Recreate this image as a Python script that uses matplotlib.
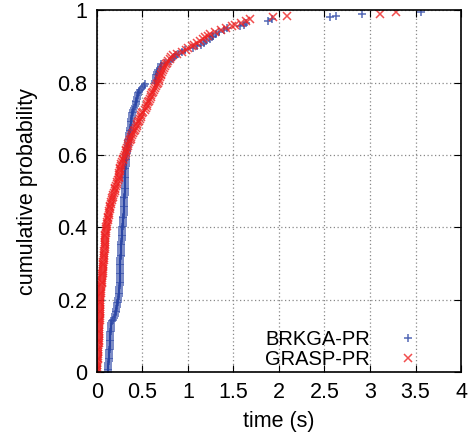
import numpy as np
import matplotlib
matplotlib.use('Agg')
import matplotlib.pyplot as plt

# sorted run times (s), 200 runs each
brkga_times = [
    0.12, 0.12, 0.12, 0.125, 0.125, 0.125, 0.13, 0.13, 0.13, 0.13, 0.135, 0.135, 0.135, 0.14,
    0.14, 0.14, 0.145, 0.145, 0.145, 0.15, 0.15, 0.15, 0.15, 0.155, 0.155, 0.155, 0.16, 0.16,
    0.17, 0.18, 0.19, 0.20,
    0.205, 0.21, 0.21, 0.215, 0.22, 0.22, 0.225, 0.23, 0.235,
    0.235, 0.24, 0.24, 0.24, 0.245, 0.245, 0.245, 0.25, 0.25, 0.25,
    0.25, 0.25, 0.25, 0.255, 0.255, 0.255, 0.255, 0.255, 0.26, 0.26, 0.26, 0.26,
    0.26, 0.265, 0.265, 0.265, 0.265, 0.27, 0.27, 0.27, 0.27, 0.27, 0.275, 0.275, 0.275, 0.275,
    0.28, 0.28, 0.28, 0.28,
    0.285, 0.285, 0.285, 0.29, 0.29, 0.29, 0.295, 0.295, 0.295, 0.30,
    0.30, 0.30, 0.30, 0.30, 0.30, 0.30, 0.30, 0.305, 0.305, 0.305, 0.305, 0.305, 0.305, 0.305,
    0.305, 0.31, 0.31, 0.31, 0.31, 0.31, 0.31, 0.31,
    0.31, 0.315, 0.315, 0.315, 0.32, 0.32, 0.32, 0.325,
    0.33, 0.33, 0.335, 0.335, 0.34, 0.34, 0.345, 0.345,
    0.35, 0.35, 0.355, 0.355, 0.36, 0.36,
    0.365, 0.37, 0.37, 0.375, 0.38, 0.38, 0.385, 0.39, 0.39, 0.395, 0.40,
    0.41, 0.42, 0.425, 0.43, 0.435, 0.44, 0.445, 0.45, 0.455, 0.46, 0.47,
    0.50, 0.52, 0.53,
    0.64, 0.64, 0.645, 0.65, 0.655, 0.66, 0.665, 0.67,
    0.69, 0.70, 0.71, 0.75, 0.80,
    0.83, 0.85, 0.87, 0.89, 0.94, 0.97, 1.06,
    1.10, 1.14, 1.18, 1.20, 1.24, 1.26, 1.28, 1.31, 1.34, 1.40,
    1.43, 1.57, 1.62, 1.64, 1.88, 1.92, 2.56, 2.63, 2.91, 3.56,
]

grasp_times = [
    0.0, 0.0, 0.0, 0.005, 0.005, 0.005, 0.005, 0.01, 0.01, 0.01, 0.01, 0.01, 0.015, 0.015,
    0.015, 0.015, 0.02, 0.02,
    0.02, 0.02, 0.02, 0.02, 0.02, 0.025, 0.025, 0.025, 0.025, 0.025, 0.025, 0.03, 0.03, 0.03,
    0.03, 0.03, 0.03, 0.03, 0.035, 0.035, 0.035, 0.035, 0.035,
    0.04, 0.04, 0.04, 0.045, 0.045, 0.05, 0.05, 0.05, 0.055, 0.055,
    0.06, 0.06, 0.06, 0.06, 0.065, 0.065, 0.065, 0.07, 0.07, 0.07,
    0.07, 0.075, 0.075, 0.075, 0.08, 0.08, 0.08, 0.085, 0.085, 0.085, 0.09, 0.09, 0.09, 0.095,
    0.095, 0.095, 0.10, 0.10, 0.105, 0.105,
    0.11, 0.11, 0.115, 0.12, 0.12, 0.125, 0.13, 0.13, 0.135, 0.14,
    0.145, 0.15, 0.155, 0.16, 0.165, 0.17, 0.175, 0.18, 0.185, 0.195,
    0.20, 0.205, 0.21, 0.22, 0.225, 0.235,
    0.24, 0.24, 0.245, 0.245, 0.25, 0.25,
    0.26, 0.265, 0.27, 0.28, 0.285, 0.29, 0.30, 0.31,
    0.315, 0.32, 0.325, 0.33, 0.34, 0.345, 0.35, 0.36,
    0.37, 0.38, 0.39, 0.40, 0.41, 0.42,
    0.43, 0.44, 0.445, 0.455, 0.46, 0.47, 0.48, 0.49, 0.50, 0.51, 0.53,
    0.54, 0.55, 0.555, 0.565, 0.57, 0.58, 0.59, 0.60, 0.61, 0.62, 0.63, 0.64, 0.655,
    0.66, 0.67, 0.68, 0.685, 0.69, 0.70, 0.71, 0.72,
    0.73, 0.74, 0.75, 0.76, 0.77, 0.78,
    0.80, 0.82, 0.84, 0.88, 0.93, 0.98,
    1.00, 1.04, 1.07, 1.10, 1.13, 1.17, 1.19, 1.22, 1.24,
    1.30, 1.36, 1.42, 1.48, 1.52, 1.58, 1.64,
    1.68, 1.93, 2.09, 3.11, 3.29,
]

series_names = ['BRKGA-PR', 'GRASP-PR']
x_ticks = [0, 0.5, 1, 1.5, 2, 2.5, 3, 3.5, 4]
y_ticks = [0, 0.2, 0.4, 0.6, 0.8, 1]

plt.rcParams['font.family'] = ['Liberation Sans', 'DejaVu Sans']

fig = plt.figure(figsize=(4.7, 4.42), dpi=100)
ax = fig.add_axes([0.206, 0.158, 0.775, 0.819])

for times, name, mk, col in [(brkga_times, series_names[0], '+', '#2a45a5'),
                             (grasp_times, series_names[1], 'x', '#ee2222')]:
    t = np.sort(np.array(times))
    p = np.arange(len(t)) / len(t)
    ax.plot(t, p, linestyle='none', marker=mk, color=col, markersize=6,
            markeredgewidth=1.1, label=name, alpha=0.8)

ax.set_xlim(0, 4)
ax.set_ylim(0, 1)
ax.set_xticks(x_ticks)
ax.set_xticklabels(['0', '0.5', '1', '1.5', '2', '2.5', '3', '3.5', '4'])
ax.set_yticks(y_ticks)
ax.set_yticklabels(['0', '0.2', '0.4', '0.6', '0.8', '1'])
ax.tick_params(direction='in', top=True, right=True, labelsize=15.5, length=5)
ax.tick_params(axis='y', pad=7)
ax.tick_params(axis='x', pad=7)
ax.grid(True, color='#888888', linestyle=(0, (1, 2)), linewidth=0.9)
ax.set_axisbelow(True)
for s in ax.spines.values():
    s.set_linewidth(1.2)

ax.set_xlabel('time (s)', fontsize=15.5, labelpad=6)
ax.set_ylabel('cumulative probability', fontsize=15.5, labelpad=14)

leg = ax.legend(loc='lower right', frameon=False, markerfirst=False, fontsize=14.5,
                handlelength=1.0, handletextpad=1.4, borderaxespad=0.1,
                labelspacing=0.05, bbox_to_anchor=(0.91, -0.02))

fig.savefig('out.png', dpi=100)
